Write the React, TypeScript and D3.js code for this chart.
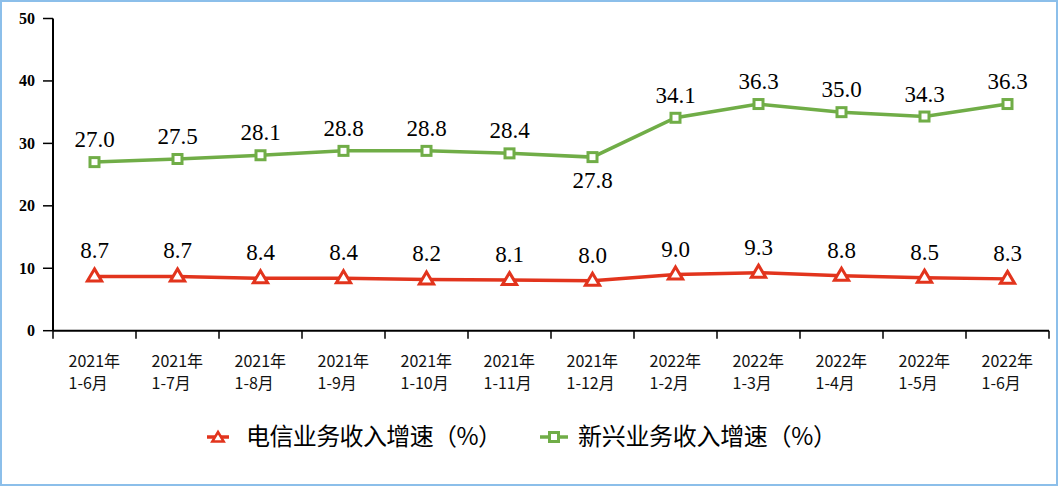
import React from "react";
import * as d3 from "d3";

const categories = [
  ["2021年", "1-6月"],
  ["2021年", "1-7月"],
  ["2021年", "1-8月"],
  ["2021年", "1-9月"],
  ["2021年", "1-10月"],
  ["2021年", "1-11月"],
  ["2021年", "1-12月"],
  ["2022年", "1-2月"],
  ["2022年", "1-3月"],
  ["2022年", "1-4月"],
  ["2022年", "1-5月"],
  ["2022年", "1-6月"],
];
const telecom = [8.7, 8.7, 8.4, 8.4, 8.2, 8.1, 8.0, 9.0, 9.3, 8.8, 8.5, 8.3];
const emerging = [27.0, 27.5, 28.1, 28.8, 28.8, 28.4, 27.8, 34.1, 36.3, 35.0, 34.3, 36.3];
const yTicks = [0, 10, 20, 30, 40, 50];
const seriesNames = ["电信业务收入增速（%）", "新兴业务收入增速（%）"];

const W = 1058, H = 486;
const RED = "#e2341d";
const GREEN = "#70ad47";
const SERIF = "'Liberation Serif', 'Times New Roman', serif";
const CJK = "'Noto Sans CJK SC', sans-serif";

export default function App() {
  const x = d3.scaleBand<number>().domain(d3.range(categories.length)).range([53, 1049]);
  const y = d3.scaleLinear().domain([0, 50]).range([330.7, 18.5]);
  const cx = (i: number) => (x(i) as number) + x.bandwidth() / 2;
  const line = d3.line<number>().x((_, i) => cx(i)).y((v) => y(v));

  const tri = (px: number, py: number, s = 7.5) =>
    `M${px},${py - s} L${px + s * 0.95},${py + s * 0.6} L${px - s * 0.95},${py + s * 0.6} Z`;

  return (
    <svg width={W} height={H} style={{ position: "absolute", left: 0, top: 0, background: "#fff" }}>
      <rect x={1} y={1} width={W - 2} height={H - 2} fill="none" stroke="#8cbfea" strokeWidth={2} />
      {/* y axis */}
      <line x1={53} x2={53} y1={y(50)} y2={y(0)} stroke="#000" strokeWidth={2} />
      {yTicks.map((t) => (
        <g key={t}>
          <line x1={43} x2={53} y1={y(t)} y2={y(t)} stroke="#000" strokeWidth={1.5} />
          <text x={35} y={y(t) + 5.5} textAnchor="end" fontFamily={SERIF} fontWeight="bold" fontSize={16}>
            {t}
          </text>
        </g>
      ))}
      {/* x axis */}
      <line x1={53} x2={1049} y1={y(0)} y2={y(0)} stroke="#000" strokeWidth={2} />
      {d3.range(categories.length + 1).map((i) => {
        const px = i < categories.length ? (x(i) as number) : 1049;
        return <line key={i} x1={px} x2={px} y1={y(0)} y2={y(0) + 8} stroke="#000" strokeWidth={1.5} />;
      })}
      {categories.map((c, i) => (
        <g key={i} fontFamily={CJK} fontSize={16} textAnchor="start" fill="#111">
          <text x={cx(i) - 26} y={367}>{c[0]}</text>
          <text x={cx(i) - 26} y={389}>{c[1]}</text>
        </g>
      ))}
      {/* lines */}
      <path d={line(emerging) || ""} fill="none" stroke={GREEN} strokeWidth={3.5} />
      <path d={line(telecom) || ""} fill="none" stroke={RED} strokeWidth={3.5} />
      {emerging.map((v, i) => (
        <rect key={i} x={cx(i) - 4.5} y={y(v) - 4.5} width={9} height={9} fill="#fff" stroke={GREEN} strokeWidth={3} />
      ))}
      {telecom.map((v, i) => (
        <path key={i} d={tri(cx(i), y(v))} fill="#fff" stroke={RED} strokeWidth={3} strokeLinejoin="miter" />
      ))}
      {/* labels */}
      {emerging.map((v, i) => (
        <text key={i} x={cx(i)} y={i === 6 ? y(v) + 31 : y(v) - 15} textAnchor="middle" fontFamily={SERIF} fontSize={23}>
          {v.toFixed(1)}
        </text>
      ))}
      {telecom.map((v, i) => (
        <text key={i} x={cx(i)} y={y(v) - 18} textAnchor="middle" fontFamily={SERIF} fontSize={23}>
          {v.toFixed(1)}
        </text>
      ))}
      {/* legend */}
      <line x1={207} x2={229} y1={437} y2={437} stroke={RED} strokeWidth={3.5} />
      <path d={tri(218, 438, 6)} fill="#fff" stroke={RED} strokeWidth={2.5} />
      <text x={246} y={445} fontFamily={CJK} fontSize={24} textLength={256} lengthAdjust="spacing">{seriesNames[0]}</text>
      <line x1={540} x2={568} y1={437} y2={437} stroke={GREEN} strokeWidth={3.5} />
      <rect x={549.5} y={432.5} width={9} height={9} fill="#fff" stroke={GREEN} strokeWidth={3} />
      <text x={578} y={445} fontFamily={CJK} fontSize={24} textLength={259} lengthAdjust="spacing">{seriesNames[1]}</text>
    </svg>
  );
}
